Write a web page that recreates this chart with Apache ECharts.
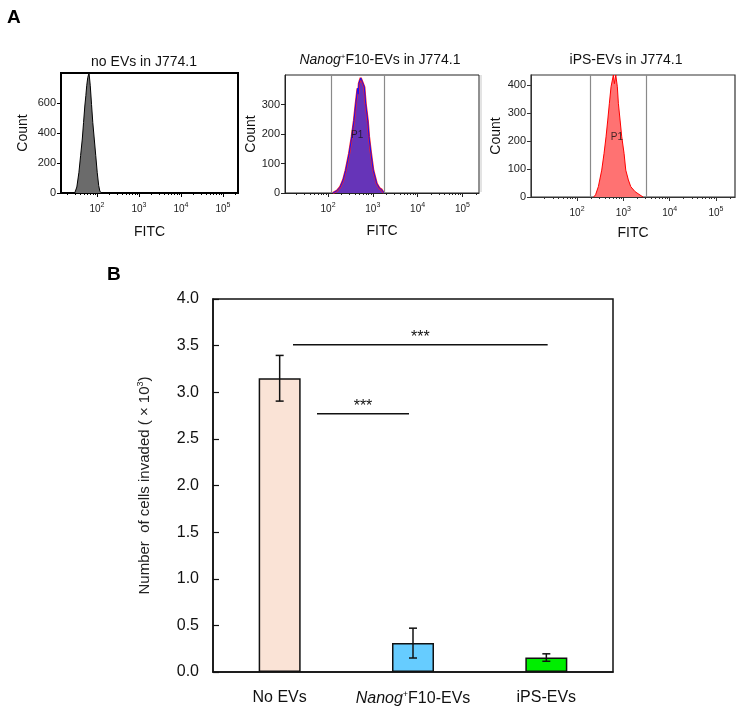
<!DOCTYPE html>
<html lang="en">
<head>
<meta charset="UTF-8">
<title>EV uptake and invasion</title>
<script src="https://cdn.jsdelivr.net/npm/echarts@6/dist/echarts.min.js"></script>
<style>
    html, body {margin: 0; padding: 0; background: #fff;}
    #main {width: 743px; height: 718px;}
</style>
</head>
<body>
<div id="main"></div>
<script type="text/javascript">
    // panel A - FITC histograms, x is log10(FITC), y is count
    var noEvsHist = [[1.47, 0], [1.52, 40], [1.57, 138], [1.61, 250], [1.65, 360], [1.68, 470], [1.71, 580],
        [1.735, 650], [1.755, 715], [1.78, 770], [1.81, 800], [1.84, 715], [1.87, 590], [1.90, 470],
        [1.935, 360], [1.97, 250], [2.005, 138], [2.04, 50], [2.07, 10], [2.12, 0]];
    var nanogHist = [[2.11, 0], [2.20, 8], [2.27, 20], [2.34, 45], [2.395, 77], [2.47, 133], [2.53, 190],
        [2.58, 246], [2.62, 303], [2.66, 355], [2.675, 335], [2.69, 372], [2.73, 390], [2.77, 375],
        [2.81, 359], [2.84, 303], [2.886, 246], [2.915, 190], [2.96, 133], [3.01, 77], [3.087, 32],
        [3.15, 16], [3.2, 11], [3.25, 0]];
    var ipsHist = [[2.36, 0], [2.40, 8], [2.46, 37], [2.533, 96], [2.583, 156], [2.626, 215], [2.663, 275],
        [2.698, 335], [2.734, 394], [2.784, 436], [2.806, 405], [2.836, 436], [2.87, 394], [2.892, 335],
        [2.929, 275], [2.965, 215], [3.015, 156], [3.052, 96], [3.108, 61], [3.16, 37], [3.253, 19],
        [3.36, 7], [3.425, 0]];
    var nanogGate = [2.08, 3.25];
    var ipsGate = [2.28, 3.49];
    var decades = [2, 3, 4, 5];

    // panel B - invaded cells (x10^3)
    var groups = ['No EVs', 'Nanog+F10-EVs', 'iPS-EVs'];
    var invaded = [3.15, 0.31, 0.155];
    var invadedErr = [0.245, 0.16, 0.04];
    var barColors = ['#fae3d6', '#66ccff', '#00ee00'];
    // significance brackets: [from, to, height]
    var sigPairs = [[0.10, 2.01, 3.51], [0.28, 0.97, 2.77]];

    var FONT = '"Liberation Sans", Arial, sans-serif';

    function minorTicks(lo, hi) {
        var out = [];
        for (var d = 1; d <= 5; d++) {
            for (var k = 2; k <= 9; k++) {
                var v = d + Math.log10(k);
                if (v > lo && v < hi) out.push(v);
            }
        }
        return out;
    }

    var xAxes = [], yAxes = [], series = [];

    function addHist(gi, xmin, xmax, ymax, yticks, fitcGap, countGap, frameColor) {
        var lineSty = {color: frameColor, width: 1};
        xAxes.push({
            type: 'value', gridIndex: gi, min: xmin, max: xmax, position: 'bottom',
            axisLine: {show: true, onZero: false, lineStyle: lineSty},
            axisTick: {show: true, customValues: decades, length: 4, lineStyle: lineSty},
            axisLabel: {
                customValues: decades, margin: 9, color: '#222',
                formatter: function (v) { return '{b|10}{s|' + v + '}'; },
                rich: {
                    b: {fontSize: 10, fontFamily: FONT, color: '#222'},
                    s: {fontSize: 7, fontFamily: FONT, color: '#222', padding: [0, 0, 7, 0]}
                }
            },
            splitLine: {show: false},
            name: 'FITC', nameLocation: 'middle', nameGap: fitcGap,
            nameTextStyle: {fontSize: 14, fontFamily: FONT, color: '#111'}
        });
        xAxes.push({
            type: 'value', gridIndex: gi, min: xmin, max: xmax, position: 'bottom',
            axisLine: {show: false, onZero: false},
            axisTick: {show: true, customValues: minorTicks(xmin, xmax), length: 2, lineStyle: lineSty},
            axisLabel: {show: false},
            splitLine: {show: false}
        });
        yAxes.push({
            type: 'value', gridIndex: gi, min: 0, max: ymax,
            axisLine: {show: true, onZero: false, lineStyle: lineSty},
            axisTick: {show: true, customValues: yticks, length: 4, lineStyle: lineSty},
            axisLabel: {customValues: yticks, fontSize: 11, fontFamily: FONT, color: '#222', margin: 5},
            splitLine: {show: false},
            name: 'Count', nameLocation: 'middle', nameGap: countGap,
            nameTextStyle: {fontSize: 14, fontFamily: FONT, color: '#111'}
        });
    }

    addHist(0, 1.143, 5.357, 800, [0, 200, 400, 600], 32, 31, '#000');
    addHist(1, 1.04, 5.37, 400, [0, 100, 200, 300], 31, 27, '#222');
    addHist(2, 1.006, 5.41, 436, [0, 100, 200, 300, 400], 29, 28, '#333');

    function histSeries(xi, yi, data, lineColor, fillColor, lw) {
        return {
            type: 'line', xAxisIndex: xi, yAxisIndex: yi, data: data,
            symbol: 'none', silent: true, z: 3,
            lineStyle: {color: lineColor, width: lw},
            areaStyle: {color: fillColor, opacity: 1}
        };
    }
    function gateLines(vals) {
        return {
            symbol: 'none', silent: true, label: {show: false},
            lineStyle: {color: '#8a8a8a', width: 1.2, type: 'solid'},
            data: vals.map(function (v) { return {xAxis: v}; })
        };
    }
    function p1Label(xi, yi, pt) {
        return {
            type: 'scatter', xAxisIndex: xi, yAxisIndex: yi, data: [pt], symbolSize: 1,
            itemStyle: {color: 'rgba(0,0,0,0)'}, silent: true, z: 5,
            label: {show: true, position: 'inside', formatter: 'P1', fontSize: 10, fontFamily: FONT, color: '#111'}
        };
    }

    series.push(histSeries(0, 0, noEvsHist, '#000', '#6b6b6b', 1));

    var nanogRed = histSeries(2, 1, nanogHist, '#ff2020', '#ff2020', 2.2);
    nanogRed.areaStyle = {color: '#d23050', opacity: 1};
    nanogRed.markLine = gateLines(nanogGate);
    series.push(nanogRed);
    series.push(histSeries(2, 1, nanogHist, '#1010ff', '#6634b8', 1));
    series.push(p1Label(2, 1, [2.65, 196]));

    var ips = histSeries(4, 2, ipsHist, '#ff0000', '#ff7272', 1);
    ips.markLine = gateLines(ipsGate);
    series.push(ips);
    series.push(p1Label(4, 2, [2.86, 214]));

    // panel B axes
    xAxes.push({
        type: 'category', gridIndex: 3, data: groups,
        axisLine: {show: true, onZero: false, lineStyle: {color: '#111', width: 1.5}},
        axisTick: {show: false},
        axisLabel: {
            interval: 0, margin: 18, fontSize: 16, fontFamily: FONT, color: '#111',
            formatter: function (v) {
                if (v.indexOf('Nanog+') === 0) return '{i|Nanog}{s|+}{n|' + v.slice(6) + '}';
                return v;
            },
            rich: {
                i: {fontSize: 16, fontStyle: 'italic', fontFamily: FONT, color: '#111'},
                s: {fontSize: 9, fontFamily: FONT, color: '#111', padding: [0, 0, 8, 0]},
                n: {fontSize: 16, fontFamily: FONT, color: '#111'}
            }
        },
        splitLine: {show: false}
    });
    // same span as the category axis, used for error bars and brackets
    xAxes.push({type: 'value', gridIndex: 3, min: -0.5, max: 2.5, show: false, axisLine: {onZero: false}});
    yAxes.push({
        type: 'value', gridIndex: 3, min: 0, max: 4, interval: 0.5,
        axisLine: {show: true, onZero: false, lineStyle: {color: '#111', width: 1.5}},
        axisTick: {show: true, inside: true, length: 6, lineStyle: {color: '#111', width: 1.2}},
        axisLabel: {
            fontSize: 16, fontFamily: FONT, color: '#111', margin: 14,
            formatter: function (v) { return v.toFixed(1); }
        },
        splitLine: {show: false},
        name: '{a|Number  of cells invaded ( × 10}{s|3}{a|)}',
        nameLocation: 'middle', nameGap: 60,
        nameTextStyle: {
            rich: {
                a: {fontSize: 15, fontFamily: FONT, color: '#222'},
                s: {fontSize: 9, fontFamily: FONT, color: '#222', padding: [0, 0, 8, 0]}
            }
        }
    });

    series.push({
        type: 'bar', xAxisIndex: 6, yAxisIndex: 3, barWidth: 42, silent: true,
        itemStyle: {borderColor: '#111', borderWidth: 1.5},
        data: invaded.map(function (v, i) { return {value: v, itemStyle: {color: barColors[i]}}; })
    });
    series.push({
        type: 'custom', xAxisIndex: 7, yAxisIndex: 3, silent: true, z: 4, clip: false,
        encode: {x: 0, y: [1, 2]},
        data: invaded.map(function (v, i) { return [i, v - invadedErr[i], v + invadedErr[i]]; }),
        renderItem: function (params, api) {
            var lo = api.coord([api.value(0), api.value(1)]);
            var hi = api.coord([api.value(0), api.value(2)]);
            var st = {stroke: '#111', lineWidth: 1.5};
            return {
                type: 'group', children: [
                    {type: 'line', shape: {x1: lo[0], y1: lo[1], x2: hi[0], y2: hi[1]}, style: st},
                    {type: 'line', shape: {x1: lo[0] - 4, y1: lo[1], x2: lo[0] + 4, y2: lo[1]}, style: st},
                    {type: 'line', shape: {x1: hi[0] - 4, y1: hi[1], x2: hi[0] + 4, y2: hi[1]}, style: st}
                ]
            };
        }
    });
    series.push({
        type: 'custom', xAxisIndex: 7, yAxisIndex: 3, silent: true, z: 4, clip: false,
        encode: {x: [0, 1], y: 2},
        data: sigPairs,
        renderItem: function (params, api) {
            var a = api.coord([api.value(0), api.value(2)]);
            var b = api.coord([api.value(1), api.value(2)]);
            return {
                type: 'group', children: [
                    {type: 'line', shape: {x1: a[0], y1: a[1], x2: b[0], y2: b[1]}, style: {stroke: '#111', lineWidth: 1.5}},
                    {type: 'text', x: (a[0] + b[0]) / 2, y: a[1] + 1,
                        style: {text: '***', fill: '#111', font: '16px ' + FONT, textAlign: 'center', textVerticalAlign: 'bottom'}}
                ]
            };
        }
    });

    var myChart = echarts.init(document.getElementById('main'));
    myChart.setOption({
        animation: false,
        backgroundColor: '#fff',
        grid: [
            {left: 61, top: 73, width: 177, height: 120, show: true, borderColor: '#000', borderWidth: 2, backgroundColor: 'transparent'},
            {left: 285, top: 75, width: 194, height: 118, show: true, borderColor: '#222', borderWidth: 1, backgroundColor: 'transparent'},
            {left: 531, top: 75, width: 204, height: 122, show: true, borderColor: '#333', borderWidth: 1.2, backgroundColor: 'transparent'},
            {left: 213, top: 299, width: 400, height: 373, show: true, borderColor: '#111', borderWidth: 1.5, backgroundColor: 'transparent'}
        ],
        xAxis: xAxes,
        yAxis: yAxes,
        series: series,
        graphic: [
            {type: 'text', left: 7, top: 8, style: {text: 'A', font: 'bold 19px ' + FONT, fill: '#000'}},
            {type: 'text', left: 107, top: 265, style: {text: 'B', font: 'bold 19px ' + FONT, fill: '#000'}},
            {type: 'line', shape: {x1: 481, y1: 75, x2: 481, y2: 192}, style: {stroke: '#c8c8c8', lineWidth: 1}},
            {type: 'text', x: 144, y: 62, style: {text: 'no EVs in J774.1', font: '14px ' + FONT, fill: '#111', textAlign: 'center', textVerticalAlign: 'middle'}},
            {type: 'text', x: 380, y: 60, style: {
                text: '{i|Nanog}{s|+}{n|F10-EVs in J774.1}', textAlign: 'center', textVerticalAlign: 'middle',
                rich: {
                    i: {fontSize: 14, fontStyle: 'italic', fontFamily: FONT, fill: '#111'},
                    s: {fontSize: 8, fontFamily: FONT, fill: '#111', padding: [0, 0, 7, 0]},
                    n: {fontSize: 14, fontFamily: FONT, fill: '#111'}
                }
            }},
            {type: 'text', x: 626, y: 60, style: {text: 'iPS-EVs in J774.1', font: '14px ' + FONT, fill: '#111', textAlign: 'center', textVerticalAlign: 'middle'}}
        ]
    });
</script>
</body>
</html>
